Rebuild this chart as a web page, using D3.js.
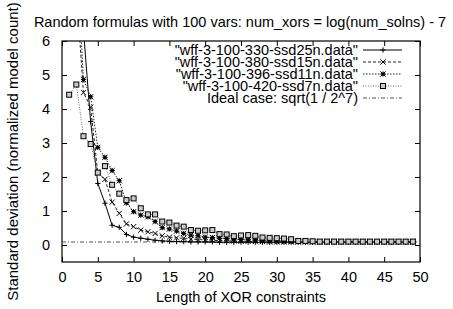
<!DOCTYPE html>
<html>
<head>
<meta charset="utf-8">
<script src="https://cdn.jsdelivr.net/npm/d3@7"></script>
<style>
  body { margin: 0; background: #fff; }
  text { font-family: "Liberation Sans", Arial, sans-serif; font-size: 14.5px; fill: #000; }
</style>
</head>
<body>
<svg id="chart" width="453" height="309"></svg>
<script>
// data
var xTicks = [0, 5, 10, 15, 20, 25, 30, 35, 40, 45, 50];
var yTicks = [0, 1, 2, 3, 4, 5, 6];

var s1Start = 3;
var s1 = [6.3, 3.63, 1.81, 1.23, 0.58, 0.52, 0.31, 0.23, 0.2, 0.17,
          0.14, 0.12, 0.11, 0.1, 0.1, 0.09, 0.09, 0.09, 0.09, 0.08,
          0.08, 0.08, 0.08, 0.08, 0.08, 0.08, 0.08, 0.08, 0.08, 0.08,
          0.08, 0.08, 0.08, 0.08, 0.08, 0.08, 0.08, 0.08, 0.08, 0.08,
          0.08, 0.08, 0.08, 0.08, 0.08, 0.08, 0.08];

var s2Start = 2;
var s2 = [7.5, 4.48, 4.05, 2.12, 1.93, 1.26, 0.93, 0.62, 0.54, 0.44,
          0.39, 0.34, 0.27, 0.23, 0.21, 0.2, 0.17, 0.16, 0.15, 0.14,
          0.13, 0.12, 0.12, 0.11, 0.11, 0.1, 0.1, 0.09, 0.09, 0.09,
          0.09, 0.09, 0.09, 0.09, 0.09, 0.09, 0.09, 0.09, 0.09, 0.09,
          0.09, 0.09, 0.09, 0.09, 0.09, 0.09, 0.09, 0.09];

var s3Start = 2;
var s3 = [8.6, 4.87, 4.36, 2.87, 2.58, 2.19, 1.89, 1.24, 0.98, 0.88,
          0.83, 0.69, 0.51, 0.47, 0.41, 0.34, 0.29, 0.27, 0.23, 0.22,
          0.2, 0.19, 0.17, 0.16, 0.15, 0.14, 0.13, 0.12, 0.12, 0.11,
          0.11, 0.1, 0.1, 0.1, 0.1, 0.1, 0.1, 0.1, 0.1, 0.1,
          0.1, 0.1, 0.1, 0.1, 0.1, 0.1, 0.1, 0.1];

var s4Start = 1;
var s4 = [4.42, 4.72, 3.2, 2.97, 2.13, 2.32, 1.77, 1.51, 1.32, 1.37,
          1.08, 0.9, 0.9, 0.69, 0.66, 0.57, 0.54, 0.44, 0.42, 0.43,
          0.44, 0.32, 0.31, 0.26, 0.28, 0.29, 0.27, 0.22, 0.21, 0.2,
          0.19, 0.17, 0.12, 0.12, 0.11, 0.1, 0.1, 0.1, 0.1, 0.1,
          0.1, 0.1, 0.1, 0.1, 0.1, 0.1, 0.1, 0.1, 0.1];

var idealValue = Math.sqrt(1 / 128);

var labels = [
  '"wff-3-100-330-ssd25n.data"',
  '"wff-3-100-380-ssd15n.data"',
  '"wff-3-100-396-ssd11n.data"',
  '"wff-3-100-420-ssd7n.data"',
  'Ideal case: sqrt(1 / 2^7)'
];

function toPoints(start, values) {
  return values.map(function(v, i) { return [start + i, v]; });
}

var svg = d3.select("#chart");
var plotLeft = 62, plotRight = 420, plotTop = 41, plotBottom = 262;

var x = d3.scaleLinear().domain([0, 50]).range([plotLeft, plotRight]);
var y = d3.scaleLinear().domain([-0.5, 6]).range([plotBottom, plotTop]);

svg.append("defs").append("clipPath").attr("id", "plotclip")
  .append("rect")
  .attr("x", plotLeft).attr("y", plotTop)
  .attr("width", plotRight - plotLeft).attr("height", plotBottom - plotTop);

// axes, ticks pointing inwards on all four sides
svg.append("g").attr("transform", "translate(0," + plotBottom + ")")
  .call(d3.axisBottom(x).tickValues(xTicks).tickSize(-5).tickPadding(10).tickFormat(d3.format("d")))
  .call(function(g) { g.select(".domain").remove(); });
svg.append("g").attr("transform", "translate(0," + plotTop + ")")
  .call(d3.axisTop(x).tickValues(xTicks).tickSize(-5).tickFormat(""))
  .call(function(g) { g.select(".domain").remove(); });
svg.append("g").attr("transform", "translate(" + plotLeft + ",0)")
  .call(d3.axisLeft(y).tickValues(yTicks).tickSize(-5).tickPadding(12).tickFormat(d3.format("d")))
  .call(function(g) { g.select(".domain").remove(); });
svg.append("g").attr("transform", "translate(" + plotRight + ",0)")
  .call(d3.axisRight(y).tickValues(yTicks).tickSize(-5).tickFormat(""))
  .call(function(g) { g.select(".domain").remove(); });

svg.selectAll(".tick line").attr("stroke", "#000");
svg.selectAll(".tick text").style("font-size", "14.5px").style("font-family", "Liberation Sans, Arial, sans-serif").attr("fill", "#000");

svg.append("rect")
  .attr("x", plotLeft).attr("y", plotTop)
  .attr("width", plotRight - plotLeft).attr("height", plotBottom - plotTop)
  .attr("fill", "none").attr("stroke", "#000").attr("stroke-width", 1.2);

// point symbols
function drawMark(g, kind, cx, cy) {
  var r = 2.6;
  if (kind == "plus" || kind == "star") {
    g.append("path").attr("d", "M" + (cx - r) + "," + cy + "H" + (cx + r) + "M" + cx + "," + (cy - r) + "V" + (cy + r))
      .attr("stroke", "#000").attr("stroke-width", 1);
  }
  if (kind == "cross" || kind == "star") {
    g.append("path").attr("d", "M" + (cx - r) + "," + (cy - r) + "L" + (cx + r) + "," + (cy + r) +
        "M" + (cx - r) + "," + (cy + r) + "L" + (cx + r) + "," + (cy - r))
      .attr("stroke", "#000").attr("stroke-width", 1);
  }
  if (kind == "star") {
    g.append("rect").attr("x", cx - 1.5).attr("y", cy - 1.5).attr("width", 3).attr("height", 3).attr("fill", "#000");
  }
  if (kind == "square") {
    g.append("rect").attr("x", cx - 2.5).attr("y", cy - 2.5).attr("width", 5).attr("height", 5)
      .attr("fill", "#ccc").attr("stroke", "#000").attr("stroke-width", 1);
  }
}

var series = [
  { pts: toPoints(s1Start, s1), mark: "plus", dash: null, color: "#000" },
  { pts: toPoints(s2Start, s2), mark: "cross", dash: "3,2", color: "#222" },
  { pts: toPoints(s3Start, s3), mark: "star", dash: "1.5,1.5", color: "#222" },
  { pts: toPoints(s4Start, s4), mark: "square", dash: "1,1.5", color: "#666" }
];

var line = d3.line().x(function(d) { return x(d[0]); }).y(function(d) { return y(d[1]); });
var plot = svg.append("g").attr("clip-path", "url(#plotclip)");

plot.append("line")
  .attr("x1", x(0)).attr("x2", x(50))
  .attr("y1", y(idealValue)).attr("y2", y(idealValue))
  .attr("stroke", "#555").attr("stroke-dasharray", "4,2,1,2");

series.forEach(function(s) {
  plot.append("path").datum(s.pts)
    .attr("d", line)
    .attr("fill", "none")
    .attr("stroke", s.color)
    .attr("stroke-width", 1)
    .attr("stroke-dasharray", s.dash);
  var mg = plot.append("g");
  s.pts.forEach(function(p) {
    if (p[1] <= 6) drawMark(mg, s.mark, x(p[0]), y(p[1]));
  });
});

// legend
var legend = svg.append("g");
labels.forEach(function(lab, i) {
  var ly = 50 + i * 12;
  legend.append("text")
    .attr("x", 358).attr("y", ly).attr("dy", "0.35em")
    .attr("text-anchor", "end").text(lab);
  var l = legend.append("line")
    .attr("x1", 363).attr("x2", 402).attr("y1", ly).attr("y2", ly)
    .attr("stroke-width", 1);
  if (i < 4) {
    l.attr("stroke", series[i].color).attr("stroke-dasharray", series[i].dash);
    drawMark(legend, series[i].mark, 383, ly);
  } else {
    l.attr("stroke", "#555").attr("stroke-dasharray", "4,2,1,2");
  }
});

// titles
svg.append("text")
  .attr("x", 240).attr("y", 27)
  .attr("text-anchor", "middle")
  .text("Random formulas with 100 vars: num_xors = log(num_solns) - 7");

svg.append("text")
  .attr("x", 241).attr("y", 302)
  .attr("text-anchor", "middle")
  .text("Length of XOR constraints");

svg.append("text")
  .attr("transform", "translate(18," + ((plotTop + plotBottom) / 2) + ") rotate(-90)")
  .attr("text-anchor", "middle")
  .style("font-size", "15px")
  .text("Standard deviation (normalized model count)");
</script>
</body>
</html>
